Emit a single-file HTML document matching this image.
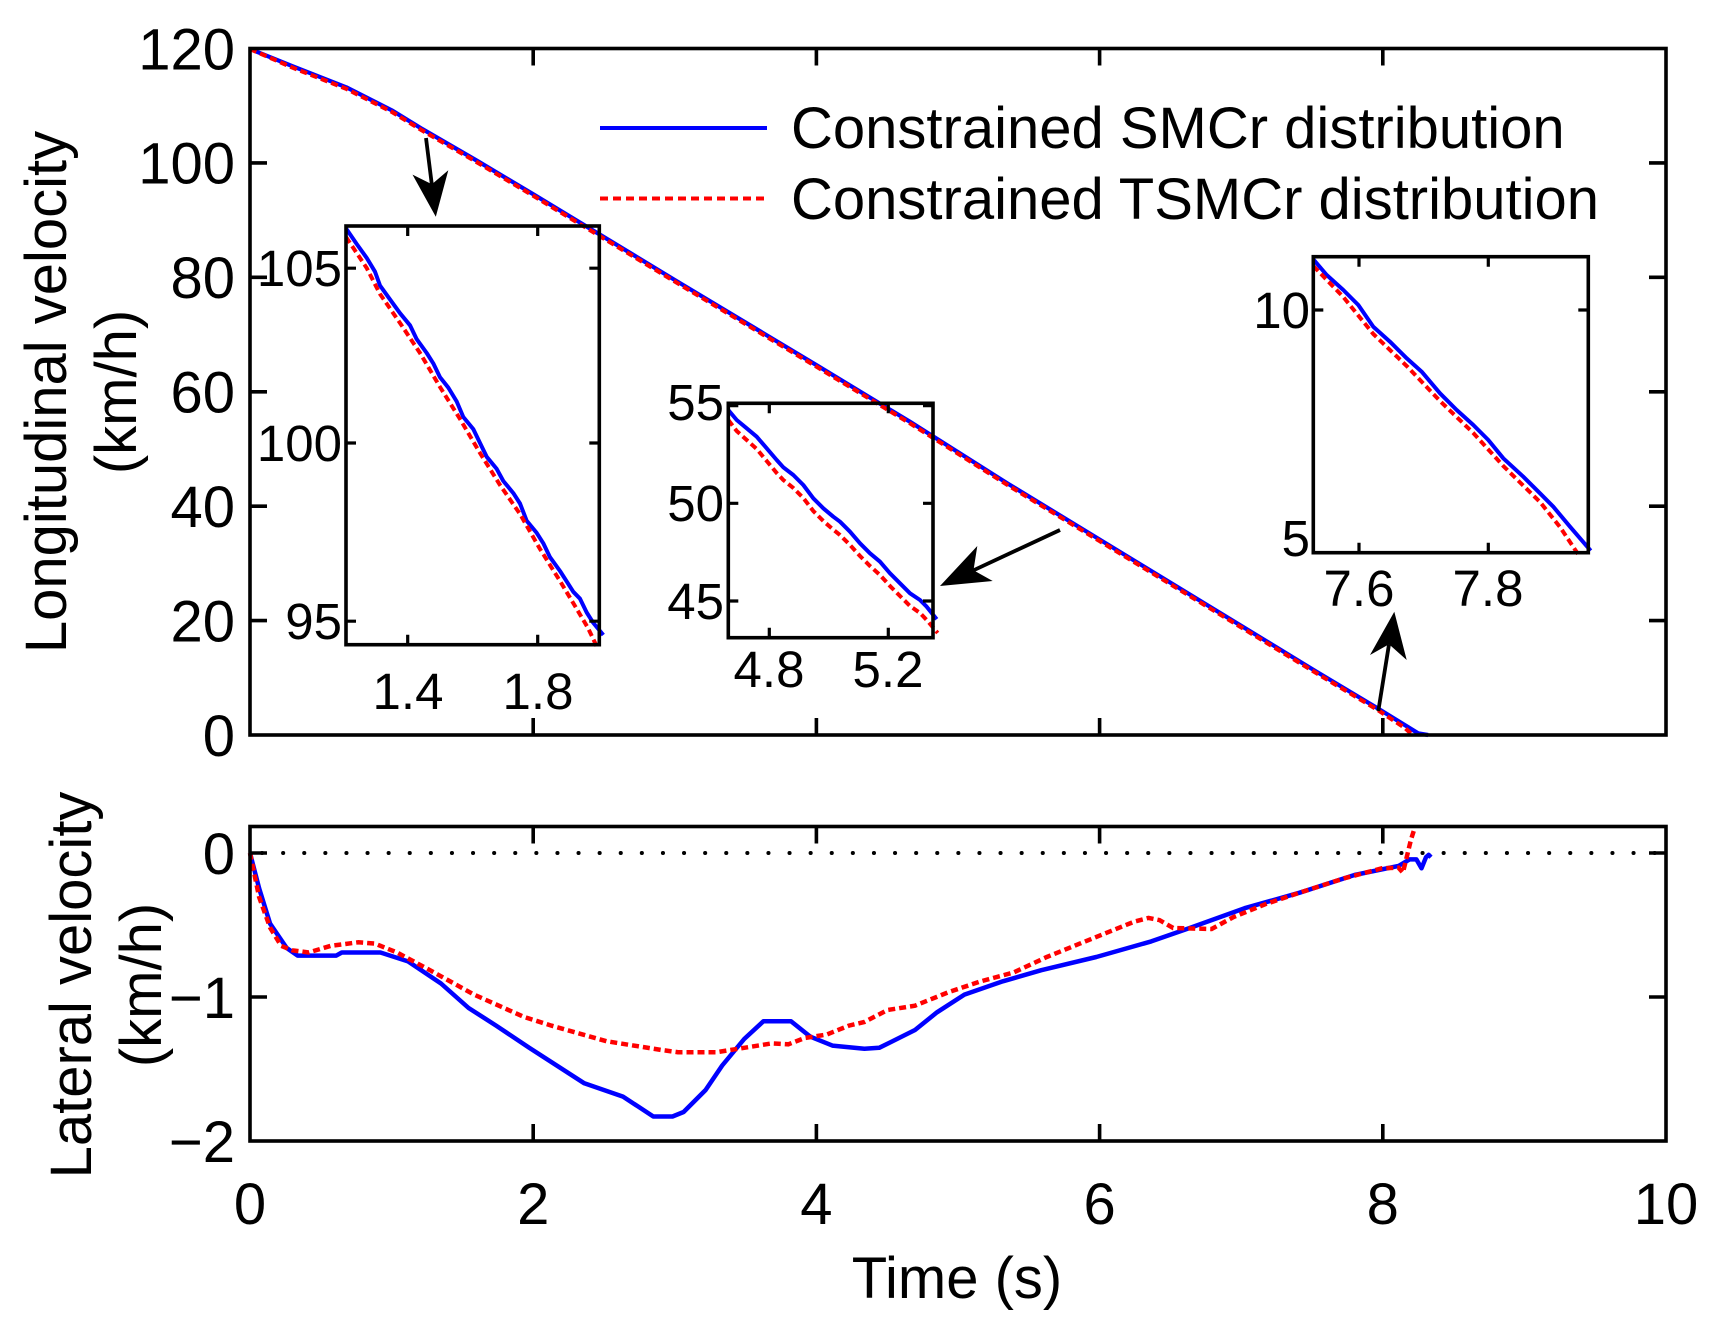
<!DOCTYPE html>
<html><head><meta charset="utf-8"><style>
html,body{margin:0;padding:0;background:#fff;}
svg{display:block;}
text{font-family:"Liberation Sans",Arial,sans-serif;fill:#000;}
</style></head><body>
<svg width="1717" height="1335" viewBox="0 0 1717 1335" xmlns="http://www.w3.org/2000/svg">
<rect width="1717" height="1335" fill="#fff"/>

<!-- ===== MAIN PLOT ===== -->
<polyline fill="none" stroke="#0000ff" stroke-width="4.2" stroke-linejoin="round"
 points="250,49 292.5,66.2 346.3,87.3 391.6,110.2 421.3,128.4 476.6,160.5 533.2,194.2 674.8,280 816.4,365.1 909.9,421.7 1007.6,483.5 1099.6,539.5 1241.2,625.8 1316.2,671.5 1376.4,707.6 1418.2,733.3 1428.1,735"/>
<polyline fill="none" stroke="#ff0000" stroke-width="4.2" stroke-dasharray="7 4"
 points="250,49 292.5,67.6 346.3,88.8 391.6,111.7 421.3,129.9 476.6,162 533.2,195.7 674.8,281.5 816.4,366.6 909.9,423.2 1007.6,485 1099.6,541 1241.2,627.3 1316.2,673 1376.4,709.1 1405,728 1412.5,735"/>

<rect x="250" y="48.5" width="1416" height="686.5" fill="none" stroke="#000" stroke-width="3.6"/>
<g stroke="#000" stroke-width="3.6">
 <path d="M533.2,735v-17M816.4,735v-17M1099.6,735v-17M1382.8,735v-17
          M533.2,48.5v17M816.4,48.5v17M1099.6,48.5v17M1382.8,48.5v17
          M250,162.9h17M250,277.3h17M250,391.8h17M250,506.2h17M250,620.6h17
          M1666,162.9h-17M1666,277.3h-17M1666,391.8h-17M1666,506.2h-17M1666,620.6h-17"/>
</g>
<g font-size="58" text-anchor="end">
 <text x="235" y="69.3">120</text>
 <text x="235" y="183.7">100</text>
 <text x="235" y="298.1">80</text>
 <text x="235" y="412.6">60</text>
 <text x="235" y="527">40</text>
 <text x="235" y="641.4">20</text>
 <text x="235" y="755.8">0</text>
</g>
<text font-size="58" text-anchor="middle" transform="translate(66,392) rotate(-90)">Longitudinal velocity</text>
<text font-size="58" text-anchor="middle" transform="translate(136,392) rotate(-90)">(km/h)</text>

<!-- legend -->
<line x1="600" y1="128" x2="767" y2="128" stroke="#0000ff" stroke-width="4"/>
<line x1="600" y1="198.5" x2="767" y2="198.5" stroke="#ff0000" stroke-width="4" stroke-dasharray="8 5"/>
<text x="791" y="148" font-size="58">Constrained SMCr distribution</text>
<text x="791" y="219" font-size="58">Constrained TSMCr distribution</text>

<!-- ===== INSET 1 ===== -->
<polyline fill="none" stroke="#0000ff" stroke-width="4" stroke-linejoin="round"
 points="346,228.4 356.7,244 366.7,257.9 375,271.7 380,285.5 390,299.4 400,313.2 410,325.3 416.7,339.2 426.7,353 433.3,363.4 440,377.2 448.3,387.6 456.7,401.5 463.3,417 473.3,429.1 480,443 486.7,456.8 496.7,468.9 503.3,481 513.3,493.1 520,503.5 526.7,520.8 536.7,532.9 543.3,543.3 550,557.2 560,571 566.7,581.4 573.3,591.8 580,598.7 586.7,612.5 593.3,622.9 603.3,635"/>
<polyline fill="none" stroke="#ff0000" stroke-width="4" stroke-dasharray="7 4"
 points="346,237 366.7,268 380,294 400,323 420,353 440,387 460,419 480,453 500,485 520,514 540,549 560,581 575,606 588,628 598,649"/>
<rect x="346" y="226" width="253.3" height="418.7" fill="none" stroke="#000" stroke-width="3.6"/>
<g stroke="#000" stroke-width="3.2">
 <path d="M346,268.2h10M346,443h10M346,621.2h10M599.3,268.2h-10M599.3,443h-10M599.3,621.2h-10
          M407.7,226v10M537.7,226v10M407.7,644.7v-10M537.7,644.7v-10"/>
</g>
<g font-size="51">
 <text x="342" y="286" text-anchor="end">105</text>
 <text x="342" y="461" text-anchor="end">100</text>
 <text x="342" y="639" text-anchor="end">95</text>
 <text x="408" y="709" text-anchor="middle">1.4</text>
 <text x="538" y="709" text-anchor="middle">1.8</text>
</g>

<!-- ===== INSET 2 ===== -->
<polyline fill="none" stroke="#0000ff" stroke-width="4" stroke-linejoin="round"
 points="728.3,410 736.7,420 746.7,428.3 756.7,436.7 766.7,448.3 776.7,460 783.3,467.3 793.3,475 803.3,485 813.3,498.3 823.3,508.3 833.3,516.7 840,521.7 850,531.7 860,543.3 870,553.3 880,561.7 890,573.3 900,583.3 910,593.3 920,600 926.7,606.7 936.7,619.3"/>
<polyline fill="none" stroke="#ff0000" stroke-width="4" stroke-dasharray="7 4"
 points="728.3,420 736.7,431 746.7,440 756.7,449 766.7,461 776.7,473 783.3,480 793.3,488 803.3,498 813.3,511 823.3,521 833.3,529.7 840,535 850,545 860,556 870,566 880,575 890,586 900,596 910,606 920,613 926.7,620 937.7,633"/>
<rect x="728.3" y="403.3" width="204.7" height="234.4" fill="none" stroke="#000" stroke-width="3.6"/>
<g stroke="#000" stroke-width="3.2">
 <path d="M728.3,405.6h10M728.3,503.3h10M728.3,601h10M933,405.6h-10M933,503.3h-10M933,601h-10
          M769.3,403.3v10M888.3,403.3v10M769.3,637.7v-10M888.3,637.7v-10"/>
</g>
<g font-size="51">
 <text x="724" y="420" text-anchor="end">55</text>
 <text x="724" y="521" text-anchor="end">50</text>
 <text x="724" y="619" text-anchor="end">45</text>
 <text x="769" y="687" text-anchor="middle">4.8</text>
 <text x="888" y="687" text-anchor="middle">5.2</text>
</g>

<!-- ===== INSET 3 ===== -->
<polyline fill="none" stroke="#0000ff" stroke-width="4" stroke-linejoin="round"
 points="1313.3,259.3 1326.7,275 1343.3,290 1358.3,305 1373.3,326.7 1390,341.7 1406.7,358.3 1421.7,371.7 1440,393.3 1456.7,410 1473.3,425 1488.3,440 1503.3,458.3 1523.3,476.7 1540,493.3 1553.3,506.7 1570,526.7 1590.7,550.7"/>
<polyline fill="none" stroke="#ff0000" stroke-width="4" stroke-dasharray="7 4"
 points="1313.3,266 1343.3,297 1373.3,334 1406.7,366 1440,401 1473.3,433 1503.3,466 1540,502 1560,527 1579.3,556"/>
<rect x="1313.3" y="256.7" width="275" height="296" fill="none" stroke="#000" stroke-width="3.6"/>
<g stroke="#000" stroke-width="3.2">
 <path d="M1313.3,310h10M1588.3,310h-10M1359,552.7v-10M1488.3,552.7v-10M1359,256.7v10M1488.3,256.7v10"/>
</g>
<g font-size="51">
 <text x="1310" y="328" text-anchor="end">10</text>
 <text x="1310" y="556" text-anchor="end">5</text>
 <text x="1359" y="606" text-anchor="middle">7.6</text>
 <text x="1488" y="606" text-anchor="middle">7.8</text>
</g>

<!-- ===== ARROWS ===== -->
<g stroke="#000" stroke-width="3.8" fill="none">
 <line x1="426" y1="138" x2="432" y2="186"/>
 <line x1="1060" y1="530" x2="973.5" y2="570.3"/>
 <line x1="1378.3" y1="711" x2="1389" y2="644.3"/>
</g>
<g fill="#000">
 <polygon points="435.8,216.7 448.3,170.2 431.9,184.3 412.5,174.6"/>
 <polygon points="940,586 977.3,546 973.5,570.3 992.7,581"/>
 <polygon points="1394.3,611.7 1370,655 1389,644.3 1406.7,660"/>
</g>

<!-- ===== LOWER PLOT ===== -->
<line x1="262" y1="853" x2="1666" y2="853" stroke="#000" stroke-width="4" stroke-linecap="round" stroke-dasharray="0.1 21"/>
<polyline fill="none" stroke="#0000ff" stroke-width="4.5" stroke-linejoin="round"
 points="250,853 259.1,888.2 270.1,923.7 286.7,948 297.7,955.6 336.3,955.6 341.8,952.5 380.4,952.5 408,961.4 441,983.5 468.6,1008 496.1,1025.6 529.2,1047.8 584.3,1083.3 623,1096.6 653.3,1116.5 672.5,1116.5 683.6,1112 705.6,1090 722.2,1065.5 744.2,1039 763.5,1021.2 791,1021.2 810.4,1036.7 832.4,1045.6 864.4,1048.7 879.2,1047.8 893,1041 915,1030 937,1012.3 964.4,994.6 1002.9,981.3 1041.3,970.2 1096.3,957 1151.2,941.4 1189.7,928 1244.6,908.2 1299.6,892.7 1354.5,875 1398.5,866 1409.5,859.4 1416.4,859.4 1421.5,868.3 1426,857.2 1428.7,854.9 1431,857.2"/>
<polyline fill="none" stroke="#ff0000" stroke-width="4.5" stroke-dasharray="7 4"
 points="250,853 259.1,897 270.1,927.6 281.1,945.8 292.2,950.3 308.7,952.5 330.8,945.8 358.3,942.3 374.9,943.6 397,952.5 430,970.2 474,994.6 523.7,1016.8 551.3,1025.6 606.4,1041.2 661.5,1050 678,1052.2 716.6,1052.2 744.2,1047.8 771.8,1043.4 788.3,1044.3 804.9,1038 826.9,1034.5 849,1025.6 864.4,1022 887.5,1010 915,1005.7 947.9,992.4 980.9,981.3 1013.8,972.4 1046.8,957 1079.8,943.6 1112.7,930.3 1134.7,921.5 1148.5,917.9 1159.5,920.1 1173.2,928 1211.6,929 1233.6,917 1266.6,903.7 1299.6,892.7 1343.5,878.5 1382,868.3 1398.5,867.7 1402.9,872.7 1406.7,857.2 1411,839.5 1415,827"/>
<rect x="250" y="826.5" width="1416" height="314.5" fill="none" stroke="#000" stroke-width="3.6"/>
<g stroke="#000" stroke-width="3.6">
 <path d="M533.2,1141v-17M816.4,1141v-17M1099.6,1141v-17M1382.8,1141v-17
          M533.2,826.5v17M816.4,826.5v17M1099.6,826.5v17M1382.8,826.5v17
          M250,853h17M250,997h17M1666,853h-17M1666,997h-17"/>
</g>
<g font-size="58" text-anchor="end">
 <text x="235" y="874">0</text>
 <text x="235" y="1018">−1</text>
 <text x="235" y="1162">−2</text>
</g>
<text font-size="58" text-anchor="middle" transform="translate(91,985) rotate(-90)">Lateral velocity</text>
<text font-size="58" text-anchor="middle" transform="translate(161,985) rotate(-90)">(km/h)</text>

<g font-size="58" text-anchor="middle">
 <text x="250" y="1224">0</text>
 <text x="533.2" y="1224">2</text>
 <text x="816.4" y="1224">4</text>
 <text x="1099.6" y="1224">6</text>
 <text x="1382.8" y="1224">8</text>
 <text x="1666" y="1224">10</text>
</g>
<text x="957" y="1298" font-size="58" text-anchor="middle">Time (s)</text>
</svg>
</body></html>
